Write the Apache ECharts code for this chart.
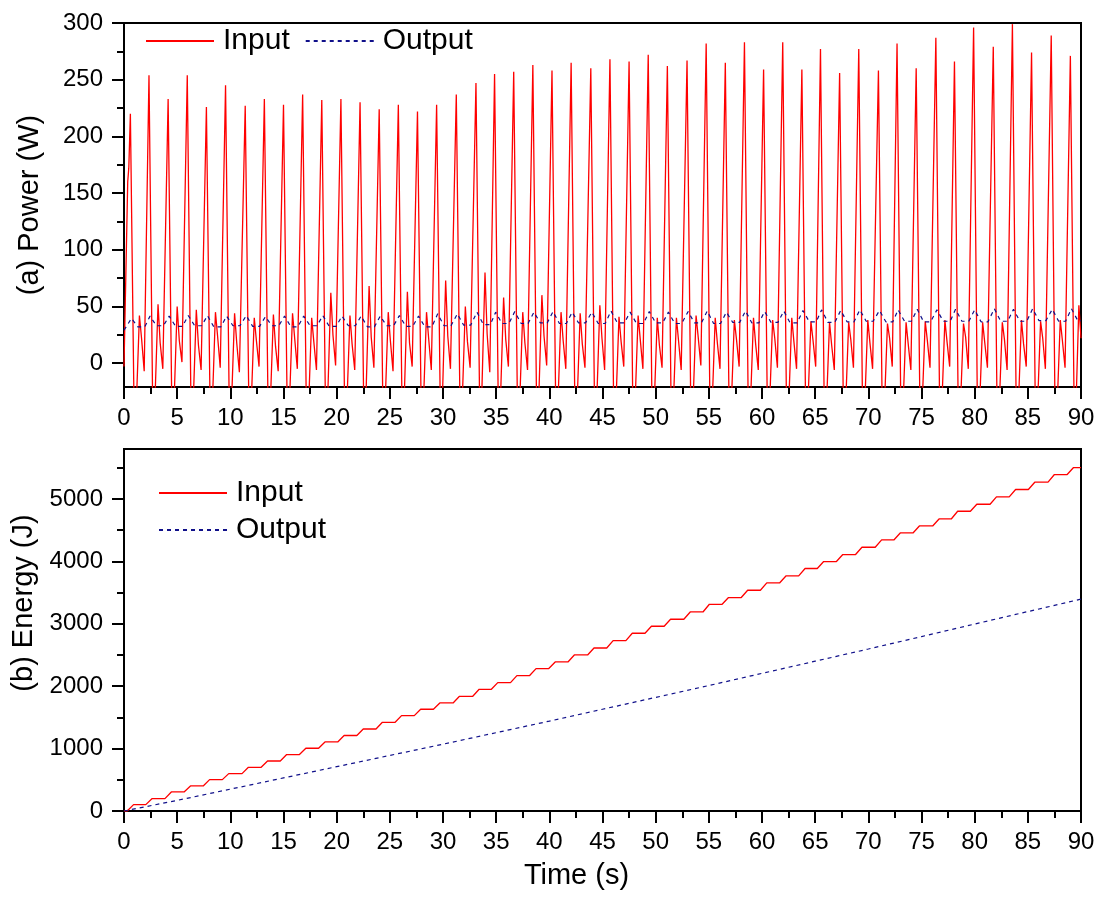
<!DOCTYPE html>
<html>
<head>
<meta charset="utf-8">
<script src="https://cdn.jsdelivr.net/npm/echarts@6/dist/echarts.min.js"></script>
<style>
html,body{margin:0;padding:0;background:#fff;}
#chart{width:1102px;height:898px;}
</style>
</head>
<body>
<div id="chart"></div>
<script>
// ---- data ----
const peakTime = [0.6, 2.35, 4.15, 5.95, 7.75, 9.55, 11.4, 13.2, 15.0, 16.8, 18.6, 20.4, 22.2, 24.0, 25.8, 27.6, 29.4, 31.25, 33.1, 34.85, 36.65, 38.45, 40.25, 42.05, 43.9, 45.7, 47.5, 49.3, 51.1, 52.95, 54.75, 56.55, 58.35, 60.15, 61.95, 63.75, 65.5, 67.3, 69.1, 70.95, 72.7, 74.5, 76.35, 78.1, 79.9, 81.75, 83.55, 85.35, 87.2, 89.0];
const peakPower = [220, 254, 233, 254, 226, 245, 227, 233, 228, 237, 232, 233, 230, 224, 228, 222, 228, 237, 247, 255, 257, 263, 258, 265, 260, 268, 266, 272, 262, 267, 282, 265, 283, 259, 283, 259, 277, 256, 277, 258, 282, 260, 287, 266, 296, 279, 299, 274, 289, 271];
const bumpPower = [42, 52, 50, 47, 45, 44, 40, 43, 44, 40, 62, 42, 68, 45, 63, 45, 73, 50, 80, 58, 45, 60, 45, 44, 51, 41, 42, 40, 40, 42, 40, 38, 40, 38, 40, 37, 36, 36, 38, 35, 36, 37, 38, 35, 36, 36, 38, 37, 38, 51];
const shoulderPower = [22, 18, 20, 16, 24, 18, 20, 15, 22, 19, 25, 17, 23, 20, 18, 22, 24, 19, 26, 21, 18, 24, 20, 17, 22, 19, 21, 16, 20, 23, 18, 21, 17, 22, 19, 20, 16, 21, 18, 22, 17, 20, 19, 23, 18, 21, 17, 22, 20, 20];
const troughPower = [-7, -5, 1, -6, -4, -8, -3, -7, -5, -6, -2, -6, -4, -7, -3, -6, -5, -4, -8, -3, -6, -2, -5, -4, -6, -3, -5, -4, -6, -2, -5, -3, -6, -4, -5, -3, -6, -4, -5, -3, -6, -4, -3, -5, -4, -6, -3, -5, -4, -4];
const powerEnd = [[89.4, -80], [89.8, 51], [90, 22]];
const outPeak = [39.5, 41.5, 41.5, 42, 42, 41.5, 42, 41, 41.5, 41.5, 42, 41.5, 41.5, 41.5, 42, 41.5, 43.5, 43.5, 45, 45, 45.5, 45, 45.5, 45, 45, 46, 45, 45.5, 45, 45.5, 46, 45, 46, 45.5, 46, 46.5, 47, 46.5, 47, 46.5, 47, 47.5, 47, 47.5, 47, 48, 47.5, 48, 47.5, 48];
const outTrough = [32, 33, 32.5, 33, 32, 33, 32.5, 33, 32, 33, 32.5, 33, 32, 33, 32.5, 32, 33, 33.5, 34, 35, 35, 35.5, 35, 35.5, 35, 35.5, 35, 35.5, 35, 35.5, 35, 36, 35.5, 36, 35.5, 36.5, 36, 36.5, 37, 36.5, 37, 36.5, 37, 37, 36.5, 37, 37, 37.5, 37, 37.5];
const energyInStep = [102, 199, 305, 401, 503, 599, 700, 801, 904, 1005, 1106, 1210, 1314, 1421, 1528, 1630, 1731, 1838, 1950, 2057, 2170, 2282, 2388, 2500, 2612, 2730, 2848, 2960, 3072, 3189, 3312, 3420, 3537, 3654, 3766, 3885, 3997, 4109, 4226, 4343, 4455, 4567, 4679, 4803, 4915, 5032, 5151, 5268, 5391, 5503];
const energyOutTime = [0, 5, 10, 15, 20, 25, 30, 35, 40, 45, 50, 55, 60, 65, 70, 75, 80, 85, 90];
const energyOut = [0, 170, 350, 530, 710, 890, 1070, 1255, 1440, 1630, 1820, 2010, 2205, 2400, 2595, 2795, 2995, 3195, 3395];
const powerTicks = [0, 50, 100, 150, 200, 250, 300];
const powerMinorTicks = [25, 75, 125, 175, 225, 275];
const energyTicks = [0, 1000, 2000, 3000, 4000, 5000];
const energyMinorTicks = [500, 1500, 2500, 3500, 4500, 5500];

// ---- build series points ----
const inputPower = [[0, -3], [0.35, 160], [0.45, 172]];
for (let k = 0; k < peakTime.length; k++) {
  const t = peakTime[k];
  inputPower.push([t, peakPower[k]]);
  if (k < peakTime.length - 1) {
    inputPower.push([t + 0.4, -80]);
    inputPower.push([t + 0.85, bumpPower[k]]);
    inputPower.push([t + 1.05, shoulderPower[k]]);
    inputPower.push([t + 1.3, troughPower[k]]);
  }
}
powerEnd.forEach(p => inputPower.push(p));

const outputPower = [[0, 29]];
for (let k = 0; k < peakTime.length; k++) {
  const t = peakTime[k];
  outputPower.push([t + 0.1, outPeak[k]]);
  outputPower.push([Math.min(t + 0.7, 90), outTrough[k]]);
  outputPower.push([Math.min(t + 1.35, 90), outTrough[k]]);
}

const energyIn = [[0, 0]];
let prevE = 0;
for (let k = 0; k < peakTime.length; k++) {
  const t = peakTime[k];
  energyIn.push([Math.max(t - 0.3, 0.2), prevE]);
  energyIn.push([t + 0.3, energyInStep[k]]);
  prevE = energyInStep[k];
}
energyIn.push([90, prevE]);

const energyOutPts = energyOutTime.map((t, i) => [t, energyOut[i]]);

// ---- chart ----
const FONT = 'Liberation Sans, Arial, Helvetica, sans-serif';
const BLACK = '#000';
const RED = '#ff0000';
const NAVY = '#10108a';
const plain = v => String(v);

function xAxisCfg(gridIndex, withName) {
  const a = {
    type: 'value', gridIndex: gridIndex, min: 0, max: 90, interval: 5,
    axisLine: { show: true, onZero: false, lineStyle: { color: BLACK, width: 2 } },
    axisTick: { show: true, length: 12, lineStyle: { color: BLACK, width: 2 } },
    minorTick: { show: true, splitNumber: 2, length: 7, lineStyle: { color: BLACK, width: 2 } },
    axisLabel: { color: BLACK, fontSize: 24, fontFamily: FONT, margin: 19, formatter: plain },
    splitLine: { show: false }, minorSplitLine: { show: false }
  };
  if (withName) {
    a.name = 'Time (s)';
    a.nameLocation = 'middle';
    a.nameGap = 50;
    a.nameTextStyle = { color: BLACK, fontSize: 29, fontFamily: FONT, padding: [0, 52, 0, 0] };
  }
  return a;
}
function yMajor(gridIndex, min, max, ticks, name, gap, pad) {
  return {
    type: 'value', gridIndex: gridIndex, position: 'left', offset: 0, min: min, max: max,
    axisLine: { show: true, onZero: false, lineStyle: { color: BLACK, width: 2 } },
    axisTick: { show: true, length: 12, customValues: ticks, lineStyle: { color: BLACK, width: 2 } },
    axisLabel: { color: BLACK, fontSize: 24, fontFamily: FONT, margin: 21, customValues: ticks, formatter: plain },
    splitLine: { show: false },
    name: name, nameLocation: 'middle', nameGap: gap,
    nameTextStyle: { color: BLACK, fontSize: 29, fontFamily: FONT, padding: pad }
  };
}
function yMinor(gridIndex, min, max, ticks) {
  return {
    type: 'value', gridIndex: gridIndex, position: 'left', offset: 0, min: min, max: max,
    axisLine: { show: false, onZero: false },
    axisTick: { show: true, length: 7, customValues: ticks, lineStyle: { color: BLACK, width: 2 } },
    axisLabel: { show: false },
    splitLine: { show: false }
  };
}

const legendCommon = {
  itemWidth: 68, itemHeight: 14,
  data: ['Input', 'Output'],
  textStyle: { color: BLACK, fontSize: 30, fontFamily: FONT, padding: [0, 0, 0, 4] },
  itemStyle: { opacity: 0 },
  selectedMode: false
};

const chart = echarts.init(document.getElementById('chart'), null, { renderer: 'canvas' });
chart.setOption({
  animation: false,
  backgroundColor: '#fff',
  textStyle: { fontFamily: FONT },
  grid: [
    { left: 124, right: 21, top: 23, height: 364, show: true, borderColor: BLACK, borderWidth: 2, containLabel: false, outerBoundsMode: 'none' },
    { left: 124, right: 21, top: 449, height: 362, show: true, borderColor: BLACK, borderWidth: 2, containLabel: false, outerBoundsMode: 'none' }
  ],
  legend: [
    Object.assign({ left: 140, top: 21, orient: 'horizontal', itemGap: 15 }, legendCommon),
    Object.assign({ left: 153, top: 473, orient: 'vertical', itemGap: 7 }, legendCommon)
  ],
  xAxis: [xAxisCfg(0, false), xAxisCfg(1, true)],
  yAxis: [
    yMajor(0, -21, 300, powerTicks, '(a) Power (W)', 80, [0, 0, 0, 0]),
    yMinor(0, -21, 300, powerMinorTicks),
    yMajor(1, 0, 5800, energyTicks, '(b) Energy (J)', 84, [0, 0, 0, 54]),
    yMinor(1, 0, 5800, energyMinorTicks)
  ],
  series: [
    { name: 'Input', type: 'line', xAxisIndex: 0, yAxisIndex: 0, data: inputPower, symbol: 'none', clip: true,
      lineStyle: { color: RED, width: 1.3 }, itemStyle: { color: RED } },
    { name: 'Output', type: 'line', xAxisIndex: 0, yAxisIndex: 0, data: outputPower, symbol: 'none', clip: true,
      lineStyle: { color: NAVY, width: 1.2, type: [4, 4] }, itemStyle: { color: NAVY } },
    { name: 'Input', type: 'line', xAxisIndex: 1, yAxisIndex: 2, data: energyIn, symbol: 'none', clip: true,
      lineStyle: { color: RED, width: 1.3 }, itemStyle: { color: RED } },
    { name: 'Output', type: 'line', xAxisIndex: 1, yAxisIndex: 2, data: energyOutPts, symbol: 'none', clip: true,
      lineStyle: { color: NAVY, width: 1.2, type: [4, 4] }, itemStyle: { color: NAVY } }
  ]
});
</script>
</body>
</html>
